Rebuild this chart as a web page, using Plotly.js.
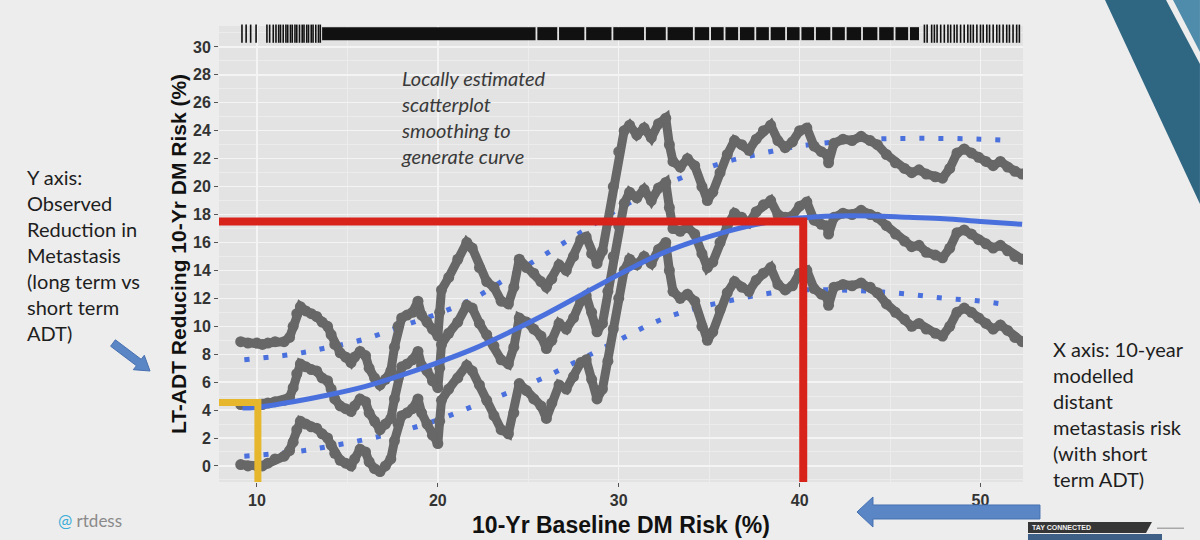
<!DOCTYPE html>
<html>
<head>
<meta charset="utf-8">
<script src="https://cdn.plot.ly/plotly-3.0.1.min.js"></script>
<style>
  html, body { margin: 0; padding: 0; background: #ededed; }
  #chart { width: 1200px; height: 540px; }
</style>
</head>
<body>
<div id="chart"></div>
<script>
// ---------------- data ----------------
const bandX = [
  9.1, 9.5, 10.0, 10.3, 10.6, 11.0, 11.5, 11.8, 12.0, 12.2,
  12.4, 12.7, 13.0, 13.3, 13.6, 13.9, 14.1, 14.3, 14.6, 14.9,
  15.2, 15.4, 15.7, 16.0, 16.2, 16.5, 16.8, 17.1, 17.4, 17.6,
  17.8, 18.0, 18.3, 18.6, 18.9, 19.1, 19.4, 19.7, 20.0, 20.1,
  20.2, 20.6, 21.1, 21.6, 21.9, 22.3, 22.7, 23.1, 23.5, 23.9,
  24.2, 24.5, 24.9, 25.3, 25.7, 26.0, 26.3, 26.7, 27.1, 27.5,
  27.9, 28.2, 28.5, 28.8, 29.1, 29.4, 29.7, 30.0, 30.3, 30.6,
  31.0, 31.4, 31.8, 32.2, 32.6, 32.8, 33.0, 33.4, 33.8, 34.2,
  34.6, 34.9, 35.2, 35.6, 36.0, 36.4, 36.8, 37.2, 37.6, 38.0,
  38.4, 38.8, 39.2, 39.6, 40.0, 40.4, 40.8, 41.2, 41.5, 41.6,
  41.9, 42.4, 42.9, 43.4, 43.9, 44.3, 44.8, 45.3, 45.8, 46.2,
  46.6, 47.0, 47.5, 47.9, 48.3, 48.7, 49.1, 49.5, 49.9, 50.3,
  50.7, 51.1, 51.5, 51.9, 52.3
];
const upperY = [
  8.9, 8.8, 8.8, 8.7, 8.8, 8.9, 8.9, 9.2, 10.0, 10.9,
  11.4, 11.1, 10.9, 10.7, 10.3, 10.0, 9.4, 8.7, 8.1, 7.8,
  7.4, 7.8, 8.2, 7.9, 7.0, 6.3, 5.8, 6.2, 6.8, 8.5,
  10.0, 10.6, 10.8, 11.0, 11.8, 10.8, 10.3, 9.8, 9.3, 11.0,
  12.6, 13.5, 14.8, 16.0, 15.6, 14.2, 13.2, 12.8, 11.8, 11.6,
  12.8, 14.8, 14.2, 13.8, 13.2, 12.8, 13.4, 14.4, 14.0, 15.0,
  16.2, 16.4, 15.2, 14.5, 15.4, 17.5, 20.0, 22.5, 24.0, 24.4,
  23.7, 24.2, 23.5, 24.5, 24.9, 23.0, 21.8, 21.4, 22.0, 21.5,
  20.0, 19.0, 19.6, 21.0, 22.3, 23.3, 23.0, 22.6, 23.4, 24.0,
  24.4, 23.3, 22.8, 23.2, 24.0, 24.2, 22.9, 22.5, 22.3, 21.7,
  23.1, 23.4, 23.3, 23.6, 23.3, 23.0, 22.3, 21.7, 21.3, 21.0,
  21.2, 20.9, 20.7, 20.6, 21.3, 22.4, 22.7, 22.4, 22.1, 21.8,
  21.5, 21.8, 21.4, 21.1, 20.9
];
const middleY = [
  4.4, 4.4, 4.4, 4.4, 4.5, 4.6, 4.7, 4.9, 5.6, 6.6,
  7.3, 7.1, 6.9, 6.8, 6.3, 6.1, 5.5, 4.8, 4.3, 4.1,
  3.9, 4.3, 4.8, 4.6, 3.8, 3.2, 2.6, 3.0, 3.4, 4.8,
  6.3, 7.1, 7.3, 7.6, 8.2, 7.2, 6.8, 6.1, 5.6, 7.0,
  8.7, 9.5, 10.3, 11.5, 11.3, 10.2, 9.4, 8.6, 7.6, 7.3,
  8.5, 10.6, 10.3, 9.8, 9.3, 8.4, 9.0, 10.2, 9.8, 10.6,
  11.8, 12.2, 11.0, 9.6, 10.2, 12.5, 15.0, 17.2, 18.8, 19.6,
  19.2, 19.8, 19.0, 19.9, 20.3, 18.5, 17.0, 16.8, 17.1, 16.6,
  15.2, 14.2, 14.6, 16.0, 17.2, 18.1, 17.8, 17.4, 18.2, 18.7,
  19.0, 18.0, 17.8, 17.9, 18.6, 18.9, 17.6, 17.3, 17.2, 16.6,
  17.8, 18.1, 18.0, 18.3, 18.0, 17.8, 17.2, 16.6, 16.1, 15.7,
  15.8, 15.3, 15.1, 14.9, 15.6, 16.7, 16.9, 16.6, 16.2, 15.9,
  15.6, 15.8, 15.4, 15.0, 14.8
];
const lowerY = [
  0.1, 0.0, 0.0, 0.0, 0.2, 0.5, 0.7, 1.1, 1.7, 2.6,
  3.2, 3.0, 2.8, 2.7, 2.3, 2.0, 1.5, 0.9, 0.4, 0.2,
  0.0, 0.5, 1.2, 1.0, 0.3, -0.2, -0.4, 0.0, 0.5, 1.8,
  3.0, 3.6, 3.8, 4.1, 4.8, 3.8, 3.0, 2.2, 1.6, 3.2,
  4.7, 5.5, 6.3, 7.2, 6.8, 5.8, 4.7, 3.6, 2.6, 2.3,
  3.8, 5.9, 5.4, 4.8, 4.3, 3.4, 4.5, 5.8, 5.5, 6.4,
  7.4, 7.6, 6.2, 4.8, 5.5, 7.5, 9.8, 12.0, 14.0, 14.8,
  14.4, 15.0, 14.5, 15.5, 16.0, 14.0, 12.5, 12.0, 12.3, 11.8,
  10.0, 9.0, 9.6, 11.2, 12.4, 13.2, 12.8, 12.5, 13.3, 13.8,
  14.2, 13.0, 12.6, 12.9, 13.8, 14.0, 12.7, 12.3, 12.1, 11.5,
  12.8, 13.0, 12.9, 13.1, 12.8, 12.4, 11.6, 11.0, 10.5, 10.0,
  10.2, 9.8, 9.5, 9.3, 10.0, 11.0, 11.3, 11.0, 10.6, 10.2,
  9.8, 10.1, 9.7, 9.2, 8.9
];

// loess fit and its interval
const fitX = [9.2, 10, 12, 14, 16, 18, 20, 22, 24, 26, 28, 30, 32, 34, 36, 38, 40, 42, 44, 46, 48, 50, 52.3];
const fitY = [4.15, 4.2, 4.6, 5.1, 5.7, 6.5, 7.4, 8.4, 9.6, 10.9, 12.3, 13.7, 15.0, 16.0, 16.8, 17.4, 17.75, 17.9, 17.9, 17.8, 17.7, 17.5, 17.3];
const ciX  = [9.3, 12, 14, 16, 18, 20, 22, 24, 26, 28, 30, 32, 34, 36, 38, 40, 42, 44, 46, 48, 50, 51.7];
const ciUp = [7.6, 8.0, 8.5, 9.1, 10.0, 10.9, 12.0, 13.6, 15.2, 16.8, 18.4, 19.8, 20.9, 21.8, 22.4, 22.9, 23.2, 23.4, 23.45, 23.45, 23.4, 23.3];
const ciLo = [0.7, 1.0, 1.4, 1.9, 2.5, 3.3, 4.3, 5.3, 6.4, 7.7, 9.0, 10.3, 11.2, 11.8, 12.3, 12.6, 12.6, 12.5, 12.3, 12.0, 11.8, 11.5];

// hand-drawn highlight lines (data coordinates)
const redX = [7.5, 40.2, 40.2];
const redY = [17.5, 17.5, -1.3];
const yellowX = [7.5, 10.05, 10.05];
const yellowY = [4.55, 4.55, -1.3];

// rug of observations along the top
const rugTicks = [9.17, 9.4, 9.65, 9.95, 10.55, 10.7, 10.9, 11.05, 11.2, 11.3, 11.45, 11.6, 11.7, 11.85, 11.95,
  12.1, 12.2, 12.35, 12.5, 12.6, 12.75, 12.85, 13.0, 13.1, 13.25, 13.4, 13.5,
  46.9, 47.05, 47.3, 47.45, 47.6, 47.8, 48.0, 48.2, 48.35, 48.55, 48.7, 48.9, 49.1, 49.3, 49.45,
  49.6, 49.8, 50.0, 50.15, 50.35, 50.5, 50.7, 50.9, 51.05, 51.25, 51.45, 51.6, 51.8, 52.0, 52.15];
const rugStart = [13.6, 25.5, 26.7, 28.2, 29.7, 31.5, 32.7, 34.2, 35.1, 35.9, 36.7, 37.6, 38.4, 39.3, 40.1, 40.9, 41.8, 42.6, 43.5, 44.4, 45.3, 46.1];
const rugEnd   = [25.4, 26.6, 28.1, 29.6, 31.4, 32.6, 34.1, 35.0, 35.8, 36.6, 37.5, 38.3, 39.2, 40.0, 40.8, 41.7, 42.5, 43.4, 44.3, 45.2, 46.0, 46.6];

const yTicks = [0, 2, 4, 6, 8, 10, 12, 14, 16, 18, 20, 22, 24, 26, 28, 30];
const xTicks = [10, 20, 30, 40, 50];

// ---------------- build ----------------
const RUG_Y = 30.95;
const segX = [], segY = [];
rugStart.forEach((s, i) => { segX.push(s, rugEnd[i], null); segY.push(RUG_Y, RUG_Y, null); });

const gray = '#676767';
const blue = '#4a70dd';
const band = (y) => ({
  x: bandX, y: y, type: 'scatter', mode: 'lines+markers',
  line: { color: gray, width: 9 }, marker: { color: gray, size: 11 },
  hoverinfo: 'skip', showlegend: false
});

const traces = [
  { x: ciX, y: ciUp, type: 'scatter', mode: 'lines', line: { color: blue, width: 5, dash: '5px,14px', shape: 'spline' }, showlegend: false, hoverinfo: 'skip' },
  { x: ciX, y: ciLo, type: 'scatter', mode: 'lines', line: { color: blue, width: 5, dash: '5px,14px', shape: 'spline' }, showlegend: false, hoverinfo: 'skip' },
  band(upperY), band(middleY), band(lowerY),
  { x: fitX, y: fitY, type: 'scatter', mode: 'lines', line: { color: blue, width: 5, shape: 'spline' }, showlegend: false, hoverinfo: 'skip' },
  { x: redX, y: redY, type: 'scatter', mode: 'lines', line: { color: '#d8231b', width: 8 }, showlegend: false, hoverinfo: 'skip' },
  { x: yellowX, y: yellowY, type: 'scatter', mode: 'lines', line: { color: '#e6b72c', width: 7 }, showlegend: false, hoverinfo: 'skip' },
  { x: segX, y: segY, type: 'scatter', mode: 'lines', line: { color: '#111', width: 13 }, showlegend: false, hoverinfo: 'skip' },
  { x: rugTicks, y: rugTicks.map(() => RUG_Y), type: 'scatter', mode: 'markers', cliponaxis: false,
    marker: { symbol: 'line-ns', size: 13, line: { color: '#111', width: 1.6 } }, showlegend: false, hoverinfo: 'skip' }
];

// page geometry (px) for slide decorations
const L = 219, R = 1023, T = 26, B = 482;
const fx = (px) => (px - L) / (R - L);
const fy = (py) => (B - py) / (B - T);
const poly = (pts) => 'M' + pts.map(p => fx(p[0]).toFixed(4) + ',' + fy(p[1]).toFixed(4)).join('L') + 'Z';

const shapes = [
  { type: 'path', xref: 'paper', yref: 'paper', path: poly([[1105, 0], [1166, 0], [1200, 64], [1200, 204]]), fillcolor: '#2f6783', line: { width: 0 }, layer: 'below' },
  { type: 'path', xref: 'paper', yref: 'paper', path: poly([[1173, 0], [1200, 0], [1200, 52]]), fillcolor: '#4f8cab', line: { width: 0 }, layer: 'below' },
  // left arrow
  { type: 'path', xref: 'paper', yref: 'paper',
    path: poly([[115.4, 339.8], [141.2, 359.3], [144.3, 355.3], [150, 371], [133.3, 369.7], [136.4, 365.7], [110.6, 346.2]]),
    fillcolor: '#5b86c6', line: { color: '#4770b0', width: 1 } },
  // bottom arrow
  { type: 'path', xref: 'paper', yref: 'paper',
    path: poly([[857, 512], [873, 497], [873, 505], [1040, 505], [1040, 519], [873, 519], [873, 527]]),
    fillcolor: '#5b86c6', line: { color: '#4470b0', width: 1 } },
  // "stay connected" banner bits
  { type: 'path', xref: 'paper', yref: 'paper', path: poly([[1028, 522], [1152, 522], [1146, 533], [1028, 533]]), fillcolor: '#363636', line: { width: 0 } },
  { type: 'path', xref: 'paper', yref: 'paper', path: poly([[1028, 534], [1162, 534], [1162, 540], [1028, 540]]), fillcolor: '#3e5f86', line: { width: 0 } },
  { type: 'path', xref: 'paper', yref: 'paper', path: poly([[1157, 527.5], [1184, 527.5], [1184, 529], [1157, 529]]), fillcolor: '#a8a8a8', line: { width: 0 } }
];

const slideFont = 'Lato, "Open Sans", sans-serif';
const annotations = [
  { xref: 'paper', yref: 'paper', x: fx(25), y: fy(254.5), xanchor: 'left', yanchor: 'middle', align: 'left', showarrow: false,
    text: 'Y axis:<br>Observed<br>Reduction in<br>Metastasis<br>(long term vs<br>short term<br>ADT)',
    font: { family: slideFont, size: 20, color: '#1e1e1e' } },
  { xref: 'paper', yref: 'paper', x: fx(1051), y: fy(414), xanchor: 'left', yanchor: 'middle', align: 'left', showarrow: false,
    text: 'X axis: 10-year<br>modelled<br>distant<br>metastasis risk<br>(with short<br>term ADT)',
    font: { family: slideFont, size: 20, color: '#1e1e1e' } },
  { xref: 'paper', yref: 'paper', x: fx(399), y: fy(117), xanchor: 'left', yanchor: 'middle', align: 'left', showarrow: false,
    text: '<i>Locally estimated<br>scatterplot<br>smoothing to<br>generate curve</i>',
    font: { family: slideFont, size: 20, color: '#3a3a3a' } },
  { xref: 'paper', yref: 'paper', x: fx(56), y: fy(520), xanchor: 'left', yanchor: 'middle', showarrow: false,
    text: '<span style="color:#3aaed8">@</span> rtdess',
    font: { family: slideFont, size: 17, color: '#8a8a8a' } },
  { xref: 'paper', yref: 'paper', x: fx(1030), y: fy(527.5), xanchor: 'left', yanchor: 'middle', showarrow: false,
    text: '<b>TAY CONNECTED</b>',
    font: { family: 'Liberation Sans, Arial, sans-serif', size: 7, color: '#f0f0f0' } }
];

const tickFont = { family: 'Liberation Sans, Arial, sans-serif', size: 16, color: '#333', weight: 'bold' };

const layout = {
  width: 1200, height: 540,
  margin: { l: L, r: 1200 - R, t: T, b: 540 - B, pad: 0 },
  paper_bgcolor: '#ededed',
  plot_bgcolor: '#e3e3e3',
  showlegend: false,
  xaxis: {
    range: [7.9, 52.35], tickvals: xTicks, ticktext: xTicks.map(String),
    ticks: 'outside', ticklen: 4, tickcolor: '#555', tickwidth: 1,
    tickfont: tickFont, showgrid: true, gridcolor: '#f4f4f4', gridwidth: 1.3,
    minor: { tickvals: [15, 25, 35, 45], showgrid: true, gridcolor: '#ececec', gridwidth: 1 },
    zeroline: false, showline: false, automargin: false,
    title: { text: '10-Yr Baseline DM Risk (%)', standoff: 8,
      font: { family: 'Liberation Sans, Arial, sans-serif', size: 23, color: '#111', weight: 'bold' } }
  },
  yaxis: {
    range: [-1.15, 31.5], tickvals: yTicks, ticktext: yTicks.map(String),
    ticks: 'outside', ticklen: 4, tickcolor: '#555', tickwidth: 1,
    tickfont: tickFont, showgrid: true, gridcolor: '#f4f4f4', gridwidth: 1.3,
    minor: { dtick: 1, tick0: 1, showgrid: true, gridcolor: '#ececec', gridwidth: 1 },
    zeroline: false, showline: false, automargin: false,
    title: { text: 'LT-ADT Reducing 10-Yr DM Risk (%)', standoff: 0,
      font: { family: 'Liberation Sans, Arial, sans-serif', size: 21, color: '#111', weight: 'bold' } }
  },
  shapes: shapes,
  annotations: annotations
};

Plotly.newPlot('chart', traces, layout, { staticPlot: true, displayModeBar: false });
</script>
</body>
</html>
